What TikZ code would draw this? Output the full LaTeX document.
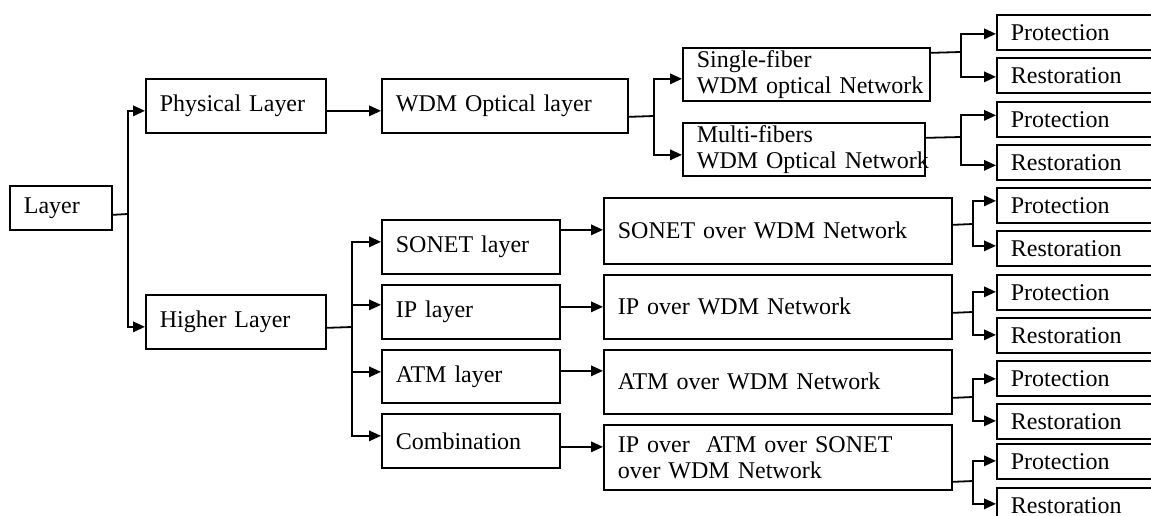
\documentclass[tikz,border=0pt]{standalone}
\usepackage{fontspec}
\setmainfont{Liberation Serif}
\usetikzlibrary{arrows.meta}
\begin{document}
\begin{tikzpicture}[x=1pt,y=-1pt,
  bx/.style={draw, line width=1.7pt, anchor=north west, inner xsep=14pt, inner ysep=0pt,
    align=left, font=\fontsize{24}{26}\selectfont},
  pr/.style={bx, minimum width=180pt, minimum height=35pt, text width=152pt},
  ln/.style={line width=1.8pt},
  arr/.style={line width=1.8pt, -{Triangle[length=12pt,width=10.5pt]}}]
\useasboundingbox (0,0) rectangle (1151,516);
\clip (0,0) rectangle (1151,516);
% boxes
\node[bx, minimum width=102pt, minimum height=44pt, text width=74pt] (layer) at (9,185) {Layer};
\node[bx, minimum width=180pt, minimum height=54pt, text width=152pt] (phys) at (145,78) {Physical Layer};
\node[bx, minimum width=180pt, minimum height=54pt, text width=152pt] (higher) at (145,294) {Higher Layer};
\node[bx, minimum width=246pt, minimum height=54pt, text width=218pt] (wdm) at (381,78) {WDM Optical layer};
\node[bx, minimum width=247pt, minimum height=53pt, text width=219pt] (single) at (682,47) {\mbox{Single-fiber}\\\mbox{WDM optical Network}};
\node[bx, minimum width=242pt, minimum height=53pt, text width=214pt] (multi) at (682,122) {\mbox{Multi-fibers}\\\mbox{WDM Optical Network}};
\node[bx, minimum width=178pt, minimum height=54pt, text width=150pt] (sonetl) at (381,219) {SONET layer};
\node[bx, minimum width=178pt, minimum height=54pt, text width=150pt] (ipl) at (381,284) {IP layer};
\node[bx, minimum width=178pt, minimum height=53pt, text width=150pt] (atml) at (381,349) {ATM layer};
\node[bx, minimum width=178pt, minimum height=54pt, text width=150pt] (comb) at (381,413) {Combination};
\node[bx, minimum width=348pt, minimum height=66pt, text width=320pt] (sow) at (603,197) {SONET over WDM Network};
\node[bx, minimum width=348pt, minimum height=64pt, text width=320pt] (ipw) at (603,274) {IP over WDM Network};
\node[bx, minimum width=348pt, minimum height=64pt, text width=320pt] (atmw) at (603,349) {ATM over WDM Network};
\node[bx, minimum width=348pt, minimum height=65pt, text width=320pt] (ipatm) at (603,424) {IP over~ ATM over SONET\\over WDM Network};
\node[pr] (p1) at (996,14) {Protection};
\node[pr] (r1) at (996,57) {Restoration};
\node[pr] (p2) at (996,101) {Protection};
\node[pr] (r2) at (996,144) {Restoration};
\node[pr] (p3) at (996,187) {Protection};
\node[pr] (r3) at (996,230) {Restoration};
\node[pr] (p4) at (996,274) {Protection};
\node[pr] (r4) at (996,317) {Restoration};
\node[pr] (p5) at (996,360) {Protection};
\node[pr] (r5) at (996,403) {Restoration};
\node[pr] (p6) at (996,443) {Protection};
\node[pr] (r6) at (996,487) {Restoration};
% fork points
\coordinate (k0) at (128,214);
\coordinate (k1) at (654,116);
\coordinate (k2) at (961,52);
\coordinate (k3) at (961,137);
\coordinate (k4) at (352,327);
\coordinate (k5) at (973,224);
\coordinate (k6) at (973,312);
\coordinate (k7) at (973,397);
\coordinate (k8) at (973,481);
% connectors
\draw[ln] ([yshift=-7pt]layer.east) -- (k0);
\draw[arr] (k0) |- ([yshift=-5pt]phys.west);
\draw[arr] (k0) |- ([yshift=-5pt]higher.west);
\draw[arr] ([yshift=-5pt]phys.east) -- ([yshift=-5pt]wdm.west);
\draw[ln] ([yshift=-11pt]wdm.east) -- (k1);
\draw[arr] (k1) |- ([yshift=-4.5pt]single.west);
\draw[arr] (k1) |- ([yshift=-5.5pt]multi.west);
\draw[ln] ([yshift=21.5pt]single.east) -- (k2);
\draw[arr] (k2) |- ([yshift=-1.5pt]p1.west);
\draw[arr] (k2) |- ([yshift=-1.5pt]r1.west);
\draw[ln] ([yshift=11.5pt]multi.east) -- (k3);
\draw[arr] (k3) |- ([yshift=4pt]p2.west);
\draw[arr] (k3) |- ([yshift=-3pt]r2.west);
\draw[ln] ([yshift=-6pt]higher.east) -- (k4);
\draw[arr] (k4) |- ([yshift=5pt]sonetl.west);
\draw[arr] (k4) |- ([yshift=7pt]ipl.west);
\draw[arr] (k4) |- ([yshift=4.5pt]atml.west);
\draw[arr] (k4) |- ([yshift=5pt]comb.west);
\draw[arr] ([yshift=17pt]sonetl.east) -- ([yshift=1pt]sow.west);
\draw[arr] ([yshift=5pt]ipl.east) -- (ipw.west);
\draw[arr] ([yshift=5.5pt]atml.east) -- ([yshift=11pt]atmw.west);
\draw[arr] ([yshift=-6pt]comb.east) -- ([yshift=10.5pt]ipatm.west);
\draw[ln] ([yshift=6pt]sow.east) -- (k5);
\draw[arr] (k5) |- ([yshift=4.5pt]p3.west);
\draw[arr] (k5) |- ([yshift=2.5pt]r3.west);
\draw[ln] ([yshift=-6pt]ipw.east) -- (k6);
\draw[arr] (k6) |- ([yshift=0.5pt]p4.west);
\draw[arr] (k6) |- ([yshift=0.5pt]r4.west);
\draw[ln] ([yshift=-16pt]atmw.east) -- (k7);
\draw[arr] (k7) |- ([yshift=-0.5pt]p5.west);
\draw[arr] (k7) |- ([yshift=0.5pt]r5.west);
\draw[ln] ([yshift=-24.5pt]ipatm.east) -- (k8);
\draw[arr] (k8) |- ([yshift=0.5pt]p6.west);
\draw[arr] (k8) |- ([yshift=1.5pt]r6.west);
\end{tikzpicture}
\end{document}
